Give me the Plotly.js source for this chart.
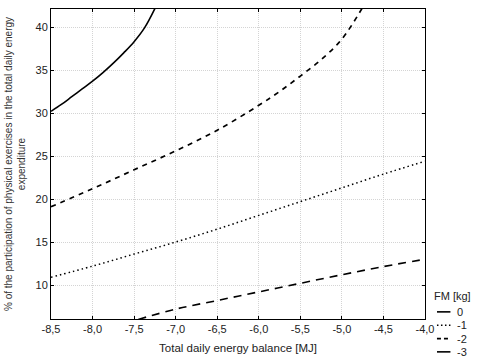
<!DOCTYPE html>
<html><head><meta charset="utf-8">
<script src="https://cdn.plot.ly/plotly-3.0.1.min.js"></script>
<style>body{margin:0;background:#fff}#chart{width:480px;height:361px}</style>
</head><body><div id="chart"></div>
<script>
// FM 0 (solid)
const x0 = [-8.5, -8.375, -8.25, -8.125, -8.0, -7.875, -7.75, -7.625, -7.5, -7.375, -7.25];
const y0 = [30.2, 31.0, 31.9, 32.8, 33.7, 34.7, 35.8, 37.0, 38.3, 39.9, 42.15];
// FM -1 (dotted)
const x1 = [-8.5, -8.0, -7.5, -7.0, -6.5, -6.0, -5.5, -5.0, -4.5, -4.0];
const y1 = [10.9, 12.2, 13.6, 15.0, 16.5, 18.1, 19.7, 21.3, 22.9, 24.4];
// FM -2 (dashed)
const x2 = [-8.5, -8.0, -7.5, -7.0, -6.5, -6.0, -5.75, -5.5, -5.25, -5.0, -4.75];
const y2 = [19.1, 21.2, 23.4, 25.6, 28.0, 30.9, 32.5, 34.3, 36.2, 38.6, 42.3];
// FM -3 (long dash)
const x3 = [-7.45, -7.0, -6.5, -6.0, -5.5, -5.0, -4.5, -4.0];
const y3 = [6.0, 7.2, 8.2, 9.2, 10.2, 11.2, 12.15, 13.0];

const names = ['0', '-1', '-2', '-3'];
const legendTitle = 'FM [kg]';
const xTicks = [-8.5, -8.0, -7.5, -7.0, -6.5, -6.0, -5.5, -5.0, -4.5, -4.0];
const xTickText = ['-8,5', '-8,0', '-7,5', '-7,0', '-6,5', '-6,0', '-5,5', '-5,0', '-4,5', '-4,0'];
const yTicks = [10, 15, 20, 25, 30, 35, 40];

const font = 'Liberation Sans, Arial, sans-serif';
const styles = [
  {width: 1.6, dash: 'solid'},
  {width: 1.5, dash: '1.5px,3px'},
  {width: 1.7, dash: '5px,5px'},
  {width: 1.6, dash: '8px,6px'}
];
const xs = [x0, x1, x2, x3], ys = [y0, y1, y2, y3];
const traces = names.map((n, i) => ({
  x: xs[i], y: ys[i], name: n, mode: 'lines', showlegend: false,
  line: {color: '#000', width: styles[i].width, dash: styles[i].dash, shape: 'spline', smoothing: 1}
}));

// manual compact legend (paper coordinates)
const legY = [0.023, -0.02, -0.063, -0.106];
const annotations = [{
  xref: 'paper', yref: 'paper', x: 1.018, y: 0.075, xanchor: 'left', yanchor: 'middle',
  text: legendTitle, showarrow: false, font: {family: font, size: 11, color: '#222'}
}];
const shapes = [];
names.forEach((n, i) => {
  annotations.push({
    xref: 'paper', yref: 'paper', x: 1.08, y: legY[i], xanchor: 'left', yanchor: 'middle',
    text: n, showarrow: false, font: {family: font, size: 11, color: '#222'}
  });
  shapes.push({
    type: 'line', xref: 'paper', yref: 'paper', x0: 1.032, x1: 1.068, y0: legY[i], y1: legY[i],
    line: {color: '#000', width: styles[i].width, dash: i === 1 ? '1.5px,2.5px' : (i === 2 ? '4px,3px' : 'solid')}
  });
});

const axBase = {
  showline: true, linecolor: '#000', linewidth: 1, mirror: 'ticks',
  ticks: 'inside', ticklen: 3, tickcolor: '#000',
  showgrid: true, gridcolor: '#d4d4d4', griddash: '1px,1px', gridwidth: 1,
  zeroline: false, tickfont: {family: font, size: 11, color: '#222'}
};

const layout = {
  width: 480, height: 361,
  margin: {l: 51, r: 55, t: 9, b: 42},
  paper_bgcolor: '#fff', plot_bgcolor: '#fff',
  showlegend: false,
  annotations: annotations,
  shapes: shapes,
  xaxis: Object.assign({}, axBase, {
    range: [-8.5, -4.0], tickvals: xTicks, ticktext: xTickText,
    title: {text: 'Total daily energy balance [MJ]', font: {family: font, size: 11.5, color: '#222'}, standoff: 9}
  }),
  yaxis: Object.assign({}, axBase, {
    range: [6.05, 42.1], tickvals: yTicks,
    title: {text: '% of the participation of physical exercises in the total daily energy<br>expenditure', font: {family: font, size: 10, color: '#333'}, standoff: 8}
  })
};

Plotly.newPlot('chart', traces, layout, {displayModeBar: false, staticPlot: true});
</script></body></html>
